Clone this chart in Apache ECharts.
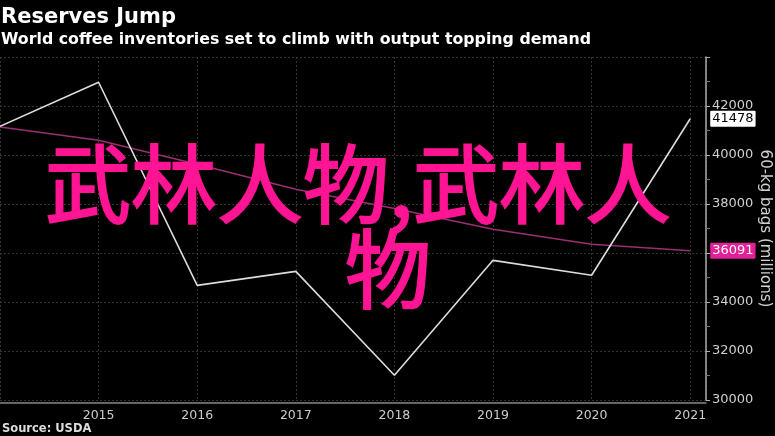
<!DOCTYPE html>
<html>
<head>
<meta charset="utf-8">
<script src="https://cdn.jsdelivr.net/npm/echarts@6/dist/echarts.min.js"></script>
<style>
  html, body { margin: 0; padding: 0; background: #000; }
  #chart-container { width: 775px; height: 436px; }
</style>
</head>
<body>
<div id="chart-container"></div>
<script>
// data
var years = [2014, 2015, 2016, 2017, 2018, 2019, 2020, 2021];
var stocks = [41170, 42970, 34680, 35250, 31010, 35700, 35090, 41478];
var trend = [41140, 40600, 39620, 38600, 37820, 36970, 36360, 36091];
var yearLabels = [2015, 2016, 2017, 2018, 2019, 2020, 2021];
var yLabels = [30000, 32000, 34000, 36000, 38000, 40000, 42000];

var TITLE = 'Reserves Jump';
var SUBTITLE = 'World coffee inventories set to climb with output topping demand';
var OVERLAY_1 = '武林人物,武林人';
var OVERLAY_2 = '物';

function pairs(xs, ys) {
    return xs.map(function (x, i) { return [x, ys[i]]; });
}

var chartDom = document.getElementById('chart-container');
var myChart = echarts.init(chartDom, null, { renderer: 'canvas' });
var font = 'DejaVu Sans';

var option = {
    backgroundColor: '#000',
    animation: false,
    textStyle: { fontFamily: font },
    title: [
        { text: TITLE, left: 1, top: 7, padding: 0, textStyle: { color: '#fff', fontSize: 21, fontWeight: 'bold', fontFamily: font } },
        { text: SUBTITLE, left: 1, top: 32, padding: 0, textStyle: { color: '#fff', fontSize: 15.8, fontWeight: 'bold', fontFamily: font } },
        { text: 'Source: USDA', left: 2, top: 423, padding: 0, textStyle: { color: '#ddd', fontSize: 11.5, fontWeight: 'bold', fontFamily: font } }
    ],
    grid: { left: 0, right: 69, top: 57, bottom: 36, outerBoundsMode: 'none' },
    xAxis: {
        type: 'value',
        min: 2014,
        max: 2021.16,
        interval: 1,
        offset: 3,
        axisLine: { show: true, lineStyle: { color: '#888', width: 1.5 } },
        axisTick: { show: false },
        axisLabel: {
            color: '#ccc', fontSize: 12.5, margin: 6,
            formatter: function (v) { return yearLabels.indexOf(v) >= 0 ? String(v) : ''; }
        },
        splitLine: { show: true, lineStyle: { color: '#333', type: [2, 2], width: 1 } }
    },
    yAxis: {
        type: 'value',
        position: 'right',
        min: 30000,
        max: 44000,
        interval: 2000,
        axisLine: { show: true, lineStyle: { color: '#aaa', width: 1.5 } },
        axisTick: { show: true, length: 4, lineStyle: { color: '#aaa' } },
        minorTick: { show: true, splitNumber: 2, length: 4, lineStyle: { color: '#777' } },
        axisLabel: {
            color: '#d0d0d0', fontSize: 13, margin: 6,
            formatter: function (v) { return yLabels.indexOf(v) >= 0 ? String(v) : ''; }
        },
        splitLine: { show: true, lineStyle: { color: '#333', type: [2, 2], width: 1 } },
        name: '60-kg bags (millions)',
        nameLocation: 'middle',
        nameRotate: -90,
        nameGap: 59,
        nameMoveOverlap: false,
        nameTextStyle: { color: '#d0d0d0', fontSize: 15, verticalAlign: 'middle' }
    },
    series: [
        {
            type: 'line',
            data: pairs(years, trend),
            symbol: 'none',
            lineStyle: { color: '#9c2f74', width: 1.5 },
            endLabel: {
                show: true, distance: 20, color: '#fff', fontSize: 13,
                backgroundColor: '#e0219a', padding: [2, 2, 1, 2], borderRadius: 1,
                formatter: function (p) { return String(p.value[1]); }
            },
            z: 2
        },
        {
            type: 'line',
            data: pairs(years, stocks),
            symbol: 'none',
            lineStyle: { color: '#dcdcdc', width: 1.6 },
            endLabel: {
                show: true, distance: 20, color: '#000', fontSize: 13,
                backgroundColor: '#fff', padding: [2, 2, 1, 2], borderRadius: 1,
                formatter: function (p) { return String(p.value[1]); }
            },
            z: 3
        }
    ],
    graphic: [
        {
            type: 'text', left: 44, top: 140, z: 100,
            style: { text: OVERLAY_1, fill: '#ff1493', stroke: '#ff1493', lineWidth: 2, font: 'normal 86px "Noto Sans CJK SC"' }
        },
        {
            type: 'text', left: 344, top: 225, z: 100,
            style: { text: OVERLAY_2, fill: '#ff1493', stroke: '#ff1493', lineWidth: 2, font: 'normal 86px "Noto Sans CJK SC"' }
        }
    ]
};

myChart.setOption(option);
</script>
</body>
</html>
